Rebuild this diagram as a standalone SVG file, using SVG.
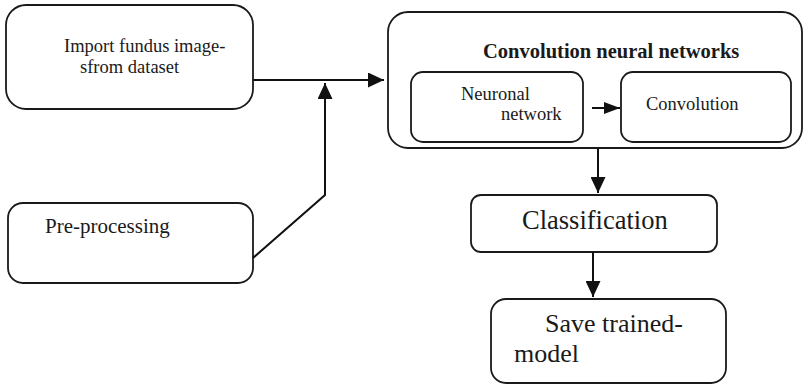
<svg xmlns="http://www.w3.org/2000/svg" width="804" height="385" viewBox="0 0 804 385">
<style>
.box{fill:#fff;stroke:#1a1a1a;stroke-width:1.8}
text{font-family:'Liberation Serif','DejaVu Serif',serif;fill:#1a1a1a}
.c{fill:none;stroke:#111;stroke-width:2}
</style>
<defs>
<marker id="ah" markerUnits="userSpaceOnUse" markerWidth="16" markerHeight="15" refX="16" refY="7.5" orient="auto" viewBox="0 0 16 15">
<path d="M0,0 L16,7.5 L0,15 z" fill="#111"/>
</marker>
<marker id="ahs" markerUnits="userSpaceOnUse" markerWidth="16" markerHeight="12" refX="16" refY="6" orient="auto" viewBox="0 0 16 12">
<path d="M0,0 L16,6 L0,12 z" fill="#111"/>
</marker>
</defs>
<rect width="804" height="385" fill="#fff"/>
<g id="import" font-family="Liberation Serif, serif">
<rect class="box" x="6" y="5" width="247" height="104" rx="20"/>
<text x="64" y="52" font-size="18.5">Import fundus image-</text>
<text x="80" y="73" font-size="18.5">sfrom dataset</text>
</g>
<g id="preprocessing" font-family="Liberation Serif, serif">
<rect class="box" x="8" y="203" width="245" height="80" rx="15"/>
<text x="45" y="233" font-size="21">Pre-processing</text>
</g>
<g id="cnn" font-family="Liberation Serif, serif">
<rect class="box" x="388" y="12" width="414" height="136" rx="20"/>
<text x="483" y="58" font-size="20.5" font-weight="bold">Convolution neural networks</text>
</g>
<g id="neuronal" font-family="Liberation Serif, serif">
<rect class="box" x="411" y="72" width="172" height="70" rx="12"/>
<text x="461" y="100" font-size="18.5">Neuronal</text>
<text x="501" y="120" font-size="18.5">network</text>
</g>
<g id="convolution" font-family="Liberation Serif, serif">
<rect class="box" x="621" y="72" width="170" height="70" rx="12"/>
<text x="646" y="110" font-size="18.5">Convolution</text>
</g>
<g id="classification" font-family="Liberation Serif, serif">
<rect class="box" x="471" y="195" width="246" height="57" rx="10"/>
<text x="522" y="229" font-size="26.5">Classification</text>
</g>
<g id="save" font-family="Liberation Serif, serif">
<rect class="box" x="491" y="299" width="235" height="84" rx="15"/>
<text x="545" y="332" font-size="26">Save trained-</text>
<text x="514" y="362" font-size="26">model</text>
</g>
<g id="connectors">
<line class="c" x1="253" y1="80" x2="384" y2="80" marker-end="url(#ah)"/>
<polyline class="c" points="253,258 325,195 325,83" marker-end="url(#ah)"/>
<line class="c" x1="592" y1="108" x2="620" y2="108" marker-end="url(#ahs)"/>
<line class="c" x1="598" y1="148" x2="598" y2="193" marker-end="url(#ah)"/>
<line class="c" x1="593" y1="252" x2="593" y2="297" marker-end="url(#ah)"/>
</g>
</svg>
